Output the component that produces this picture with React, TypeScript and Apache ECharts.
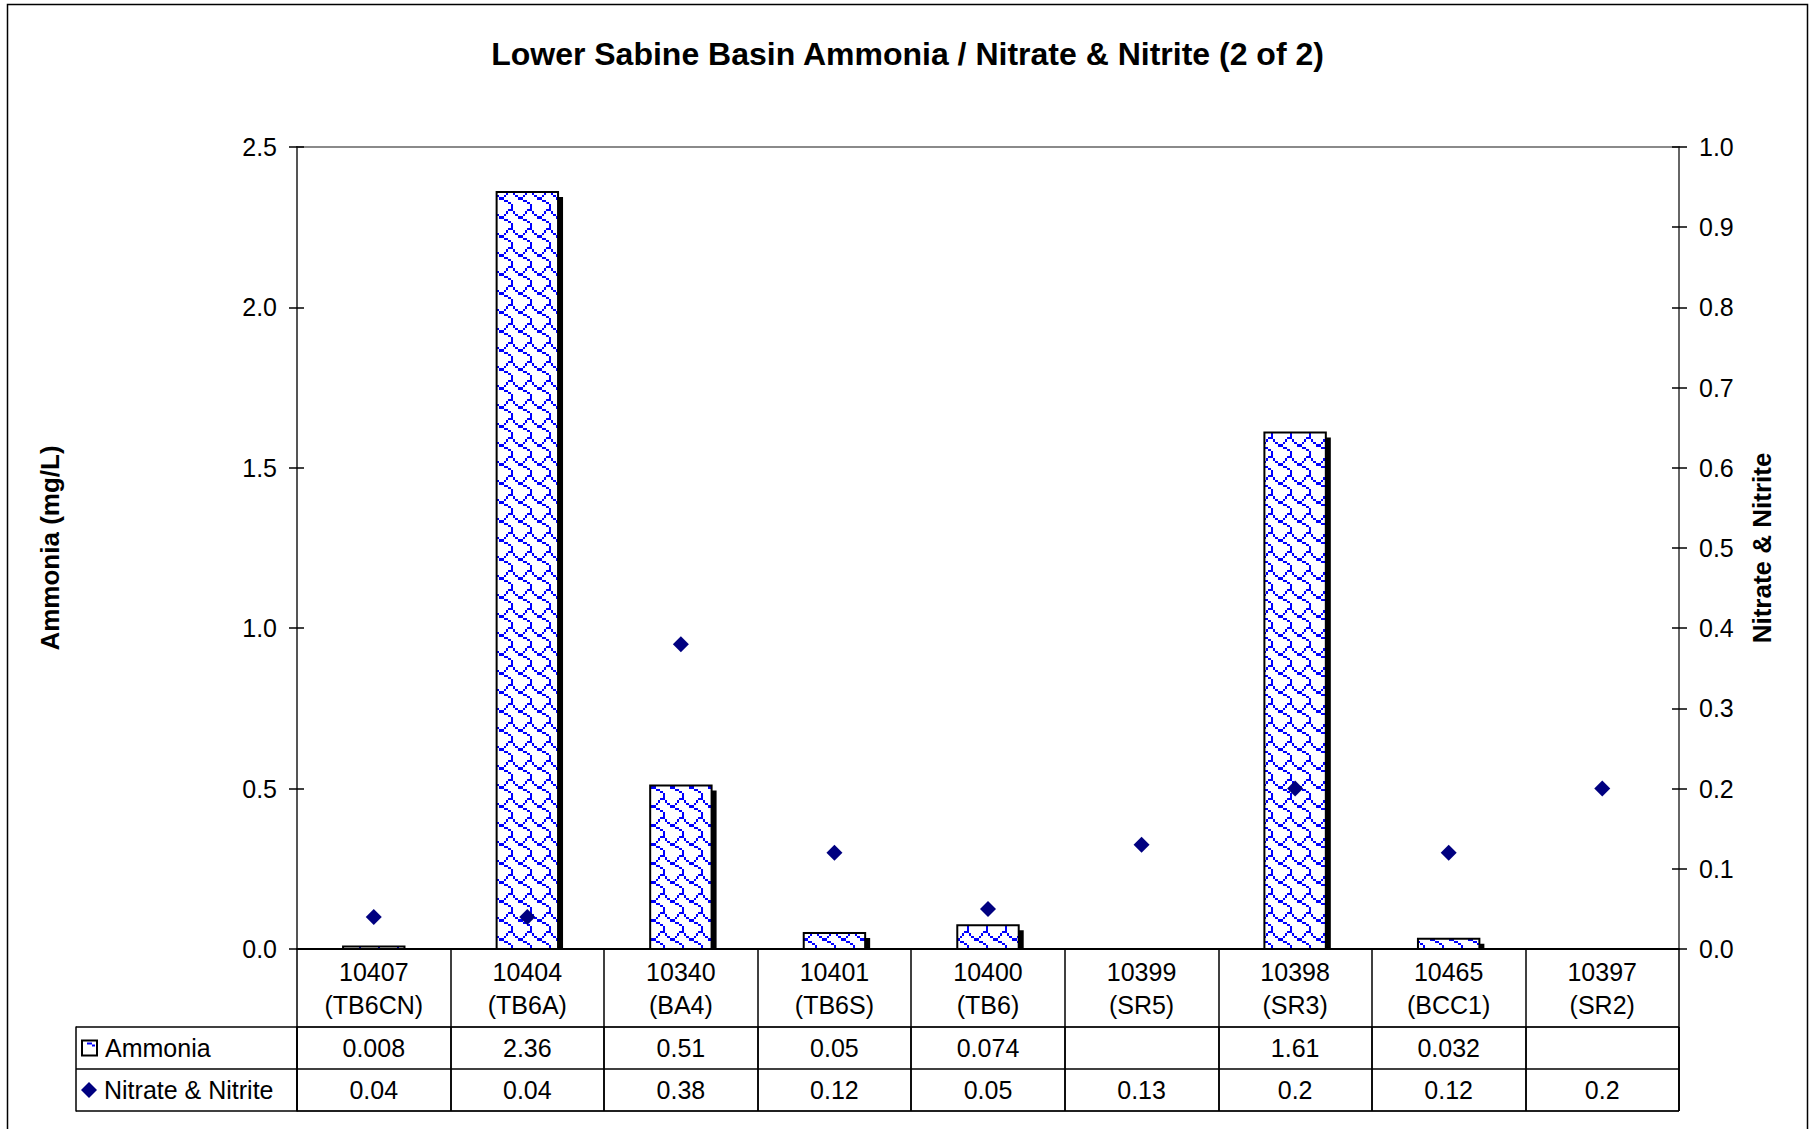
import React, { useEffect, useRef } from 'react';
import * as echarts from 'echarts';

const categories = [
  '10407\n(TB6CN)',
  '10404\n(TB6A)',
  '10340\n(BA4)',
  '10401\n(TB6S)',
  '10400\n(TB6)',
  '10399\n(SR5)',
  '10398\n(SR3)',
  '10465\n(BCC1)',
  '10397\n(SR2)',
];
const ammonia: (number | null)[] = [0.008, 2.36, 0.51, 0.05, 0.074, null, 1.61, 0.032, null];
const nitrate: (number | null)[] = [0.04, 0.04, 0.38, 0.12, 0.05, 0.13, 0.2, 0.12, 0.2];
const tableRows = ['Nitrate & Nitrite', 'Ammonia'];
const leftAxis = { min: 0, max: 2.5, interval: 0.5 };
const rightAxis = { min: 0, max: 1.0, interval: 0.1 };
const TITLE = 'Lower Sabine Basin Ammonia / Nitrate & Nitrite (2 of 2)';
const LEFT_NAME = 'Ammonia (mg/L)';
const RIGHT_NAME = 'Nitrate & Nitrite';

const FONT = "'Liberation Sans', Arial, Helvetica, sans-serif";
const SHINGLE = [0x03, 0x84, 0x48, 0x30, 0x0c, 0x02, 0x01, 0x01];
const TILE = 19;

function makeTile(): HTMLCanvasElement {
  const c = document.createElement('canvas');
  c.width = TILE;
  c.height = TILE;
  const ctx = c.getContext('2d')!;
  ctx.fillStyle = '#ffffff';
  ctx.fillRect(0, 0, TILE, TILE);
  ctx.fillStyle = '#0000ff';
  const e = (i: number) => Math.round((i * TILE) / 8);
  for (let r = 0; r < 8; r++) {
    for (let b = 0; b < 8; b++) {
      if (SHINGLE[r] & (0x80 >> b)) {
        ctx.fillRect(e(b), e(r), e(b + 1) - e(b), e(r + 1) - e(r));
      }
    }
  }
  return c;
}

function makeBoxIcon(): HTMLCanvasElement {
  const c = document.createElement('canvas');
  c.width = 17;
  c.height = 17;
  const ctx = c.getContext('2d')!;
  ctx.fillStyle = '#000';
  ctx.fillRect(0, 0, 17, 17);
  ctx.fillStyle = '#fff';
  ctx.fillRect(2, 2, 13, 13);
  ctx.fillStyle = '#0000ff';
  ctx.fillRect(6, 3, 5, 2);
  ctx.fillRect(11, 5, 3, 2);
  return c;
}

function makeDiamondIcon(): HTMLCanvasElement {
  const c = document.createElement('canvas');
  c.width = 16;
  c.height = 16;
  const ctx = c.getContext('2d')!;
  ctx.fillStyle = '#000080';
  ctx.beginPath();
  ctx.moveTo(8, 0);
  ctx.lineTo(16, 8);
  ctx.lineTo(8, 16);
  ctx.lineTo(0, 8);
  ctx.closePath();
  ctx.fill();
  return c;
}

export default function App() {
  const ref = useRef<HTMLDivElement>(null);

  useEffect(() => {
    if (!ref.current) return;
    const chart = echarts.init(ref.current, undefined, { renderer: 'svg' });
    const tile = makeTile();
    const pattern: any = { image: tile, repeat: 'repeat', imageWidth: TILE, imageHeight: TILE };
    const boxIcon = makeBoxIcon();
    const diaIcon = makeDiamondIcon();

    const barData = ammonia
      .map((v, i) => (v == null ? null : [i, v]))
      .filter((d) => d !== null);

    const tableData: any[] = [];
    ammonia.forEach((v, i) => {
      if (v != null) tableData.push([i, 1, String(v)]);
    });
    nitrate.forEach((v, i) => {
      if (v != null) tableData.push([i, 0, String(v)]);
    });

    const gridLeft = 297;
    const gridRight = 136;

    const option: any = {
      animation: false,
      backgroundColor: '#ffffff',
      textStyle: { fontFamily: FONT },
      title: {
        text: TITLE,
        left: 'center',
        top: 36,
        padding: 0,
        textStyle: { fontFamily: FONT, fontSize: 32, fontWeight: 'bold', color: '#000', lineHeight: 36 },
      },
      graphic: [
        {
          type: 'rect',
          shape: { x: 7.5, y: 4.5, width: 1800, height: 1140 },
          style: { fill: 'none', stroke: '#000', lineWidth: 1.5 },
          silent: true,
        },
      ],
      grid: [
        {
          left: gridLeft,
          right: gridRight,
          top: 147,
          height: 802,
          show: true,
          borderColor: '#8a8a8a',
          borderWidth: 2,
          backgroundColor: 'transparent',
        },
        {
          left: gridLeft,
          right: gridRight,
          top: 1027,
          height: 84,
          show: true,
          borderColor: '#000',
          borderWidth: 1,
          backgroundColor: 'transparent',
        },
      ],
      xAxis: [
        {
          type: 'category',
          gridIndex: 0,
          data: categories,
          axisLine: { show: true, lineStyle: { color: '#000', width: 2 } },
          axisTick: { show: true, alignWithLabel: false, length: 162, lineStyle: { color: '#000', width: 1.5 } },
          axisLabel: {
            interval: 0,
            fontFamily: FONT,
            fontSize: 25,
            color: '#000',
            lineHeight: 33,
            margin: 6,
          },
          splitLine: { show: false },
          z: 5,
        },
        {
          type: 'category',
          gridIndex: 1,
          data: categories,
          axisLine: { show: false },
          axisTick: { show: false },
          axisLabel: { show: false },
          splitLine: { show: true, lineStyle: { color: '#000', width: 1.5 } },
        },
      ],
      yAxis: [
        {
          type: 'value',
          gridIndex: 0,
          position: 'left',
          min: leftAxis.min,
          max: leftAxis.max,
          interval: leftAxis.interval,
          axisLine: { show: true, lineStyle: { color: '#555', width: 2 } },
          axisTick: { show: true, inside: false, length: 8, lineStyle: { color: '#000', width: 1.5 } },
          axisLabel: {
            fontFamily: FONT,
            fontSize: 25,
            color: '#000',
            margin: 20,
            formatter: (v: number) => v.toFixed(1),
          },
          splitLine: { show: false },
          name: LEFT_NAME,
          nameLocation: 'middle',
          nameRotate: 90,
          nameGap: 234,
          nameTextStyle: { fontFamily: FONT, fontSize: 26, fontWeight: 'bold', color: '#000' },
        },
        {
          type: 'value',
          gridIndex: 0,
          position: 'right',
          min: rightAxis.min,
          max: rightAxis.max,
          interval: rightAxis.interval,
          axisLine: { show: true, lineStyle: { color: '#666', width: 2 } },
          axisTick: { show: true, inside: false, length: 8, lineStyle: { color: '#000', width: 1.5 } },
          axisLabel: {
            fontFamily: FONT,
            fontSize: 25,
            color: '#000',
            margin: 20,
            formatter: (v: number) => v.toFixed(1),
          },
          splitLine: { show: false },
          name: RIGHT_NAME,
          nameLocation: 'middle',
          nameRotate: 90,
          nameGap: 70,
          nameTextStyle: { fontFamily: FONT, fontSize: 26, fontWeight: 'bold', color: '#000' },
        },
        {
          type: 'value',
          gridIndex: 0,
          position: 'left',
          min: leftAxis.min,
          max: leftAxis.max,
          interval: leftAxis.interval,
          axisLine: { show: false },
          axisTick: { show: true, inside: true, length: 7, lineStyle: { color: '#000', width: 1.5 } },
          axisLabel: { show: false },
          splitLine: { show: false },
        },
        {
          type: 'value',
          gridIndex: 0,
          position: 'right',
          min: rightAxis.min,
          max: rightAxis.max,
          interval: rightAxis.interval,
          axisLine: { show: false },
          axisTick: { show: true, inside: true, length: 7, lineStyle: { color: '#000', width: 1.5 } },
          axisLabel: { show: false },
          splitLine: { show: false },
        },
        {
          type: 'category',
          gridIndex: 1,
          position: 'left',
          data: tableRows,
          axisLine: { show: true, lineStyle: { color: '#000', width: 1.5 } },
          axisTick: { show: true, alignWithLabel: false, length: 221, lineStyle: { color: '#000', width: 1.5 } },
          axisLabel: {
            align: 'left',
            margin: 216,
            formatter: (v: string) => (v === 'Ammonia' ? '{box|}{txt|' + v + '}' : '{dia|}{txt|' + v + '}'),
            rich: {
              box: { width: 17, height: 17, backgroundColor: { image: boxIcon } },
              dia: { width: 16, height: 16, backgroundColor: { image: diaIcon } },
              txt: { fontFamily: FONT, fontSize: 25, color: '#000', padding: [0, 0, 0, 7] },
            },
          },
          splitLine: { show: true, lineStyle: { color: '#000', width: 1.5 } },
        },
        {
          type: 'category',
          gridIndex: 1,
          position: 'left',
          offset: 221,
          data: tableRows,
          axisLine: { show: true, lineStyle: { color: '#000', width: 1.5 } },
          axisTick: { show: false },
          axisLabel: { show: false },
          splitLine: { show: false },
        },
      ],
      series: [
        {
          type: 'custom',
          name: 'Ammonia',
          xAxisIndex: 0,
          yAxisIndex: 0,
          data: barData,
          encode: { x: 0, y: 1 },
          z: 2,
          renderItem: (params: any, api: any) => {
            const v = api.value(1);
            if (v == null || isNaN(v)) return null;
            const top = api.coord([api.value(0), v]);
            const base = api.coord([api.value(0), 0]);
            const bw = api.size([1, 0])[0] * 0.4;
            const x = top[0] - bw / 2;
            const y = top[1];
            const h = base[1] - top[1];
            return {
              type: 'group',
              children: [
                {
                  type: 'rect',
                  shape: { x: x + 5, y: y + 5, width: bw, height: Math.max(0, h - 5) },
                  style: { fill: '#000' },
                },
                {
                  type: 'rect',
                  shape: { x, y, width: bw, height: h },
                  style: { fill: pattern, stroke: '#000', lineWidth: 2 },
                },
              ],
            };
          },
        },
        {
          type: 'scatter',
          name: 'Nitrate & Nitrite',
          xAxisIndex: 0,
          yAxisIndex: 1,
          data: nitrate,
          symbol: 'diamond',
          symbolSize: 16,
          itemStyle: { color: '#000080', opacity: 1 },
          z: 4,
        },
        {
          type: 'custom',
          name: 'table',
          xAxisIndex: 1,
          yAxisIndex: 4,
          data: tableData,
          encode: { x: 0, y: 1 },
          z: 4,
          renderItem: (params: any, api: any) => {
            const pt = api.coord([api.value(0), api.value(1)]);
            const txt = tableData[params.dataIndex][2];
            return {
              type: 'text',
              x: pt[0],
              y: pt[1],
              style: {
                text: txt,
                fill: '#000',
                font: '25px ' + FONT,
                textAlign: 'center',
                textVerticalAlign: 'middle',
                verticalAlign: 'middle',
                align: 'center',
              },
            };
          },
        },
      ],
    };

    chart.setOption(option);
    return () => chart.dispose();
  }, []);

  return (
    <div
      ref={ref}
      style={{ position: 'absolute', left: 0, top: 0, width: 1815, height: 1129, background: '#fff' }}
    />
  );
}
